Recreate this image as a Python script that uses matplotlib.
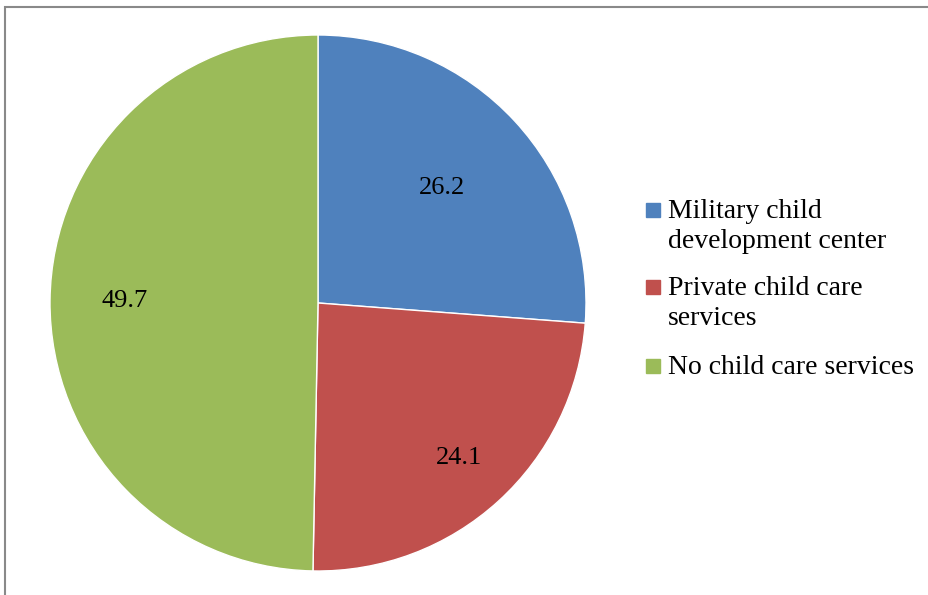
import matplotlib.pyplot as plt
import matplotlib.patches as mpatches
import numpy as np

labels = ["Military child\ndevelopment center", "Private child care\nservices", "No child care services"]
values = [26.2, 24.1, 49.7]
colors = ["#4F81BD", "#C0504D", "#9BBB59"]
label_dist = [0.63, 0.78, 0.72]

plt.rcParams['font.family'] = ['Liberation Serif', 'DejaVu Serif']
W, H = 929, 595

fig = plt.figure(figsize=(W / 100, H / 100), dpi=100)
ax = fig.add_axes([50 / W, 24 / H, 536 / W, 536 / H])
wedges, _ = ax.pie(values, colors=colors, startangle=90, counterclock=False,
                   wedgeprops=dict(edgecolor="white", linewidth=1))
ax.set_xlim(-1, 1)
ax.set_ylim(-1, 1)

# value labels inside the wedges
for w, v, d in zip(wedges, values, label_dist):
    ang = np.deg2rad((w.theta1 + w.theta2) / 2)
    ax.text(d * np.cos(ang), d * np.sin(ang), f"{v}", ha="center", va="center",
            fontsize=19, color="black")

# legend drawn by hand: marker lines up with first text line
tops = [199, 276, 355]
for lab, c, t in zip(labels, colors, tops):
    fig.add_artist(mpatches.Rectangle((646 / W, 1 - (t + 18) / H), 14 / W, 14 / H,
                                      transform=fig.transFigure, color=c))
    fig.text(668 / W, 1 - t / H, lab, ha="left", va="top", fontsize=20,
             linespacing=1.27)

# chart border (right/bottom edges fall outside the image)
border = mpatches.Rectangle((5.5 / W, -0.05), 1.0, 1 - 6.5 / H + 0.05, transform=fig.transFigure,
                            fill=False, edgecolor="#898989", linewidth=1.5)
fig.add_artist(border)

fig.savefig("out.png", dpi=100)
